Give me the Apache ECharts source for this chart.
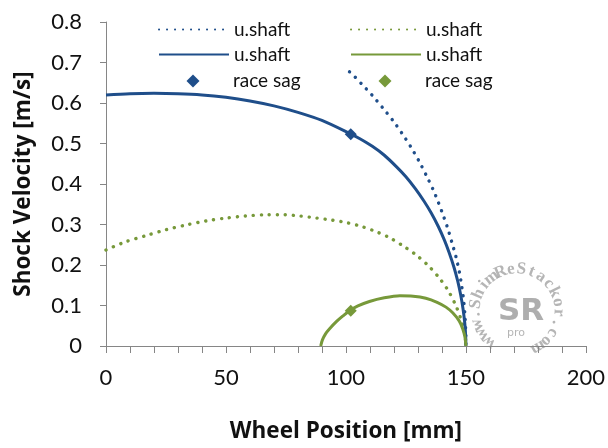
<!DOCTYPE html>
<html>
<head>
<meta charset="utf-8">
<script src="https://cdn.jsdelivr.net/npm/echarts@6/dist/echarts.min.js"></script>
<style>
  html, body { margin: 0; padding: 0; background: #fff; }
  #chart { width: 608px; height: 448px; }
</style>
</head>
<body>
<div id="chart"></div>
<script>
// Wheel position [mm] vs shock velocity [m/s]
const xTicks = [0, 50, 100, 150, 200];
const yTicks = [0, 0.1, 0.2, 0.3, 0.4, 0.5, 0.6, 0.7, 0.8];

// blue set
const blueDottedX = [101.5, 102.2, 106.7, 111.1, 115.6, 119.8, 123.6, 127.1, 130.6, 133.6, 136.5, 138.5, 140.4, 142.3, 144.2, 146, 147.3, 148.3, 149.1, 149.6, 149.9, 150];
const blueDottedY = [0.677, 0.674, 0.646, 0.618, 0.586, 0.555, 0.523, 0.491, 0.455, 0.420, 0.384, 0.355, 0.325, 0.293, 0.255, 0.217, 0.182, 0.146, 0.110, 0.075, 0.040, 0];

const blueSolidX = [0, 10, 20, 30, 40, 50, 60, 70, 80, 90, 101.5, 106, 111, 116, 121, 125, 129, 132.5, 135.5, 138.5, 141, 143, 145, 146.6, 147.8, 148.8, 149.5, 149.9, 150];
const blueSolidY = [0.620, 0.623, 0.624, 0.623, 0.620, 0.614, 0.605, 0.593, 0.577, 0.557, 0.525, 0.511, 0.493, 0.471, 0.443, 0.418, 0.388, 0.358, 0.329, 0.295, 0.262, 0.231, 0.195, 0.160, 0.127, 0.092, 0.058, 0.026, 0];

const blueSagX = [102];
const blueSagY = [0.523];

// green set
const greenDottedX = [0, 8, 16.9, 25, 33.5, 42, 50.2, 58, 66.8, 74.4, 80.7, 87.6, 94, 100, 105.5, 111.4, 117.7, 123.6, 129.2, 134.4, 138.9, 142.6, 145.8, 147.9, 149.2, 149.8, 150];
const greenDottedY = [0.237, 0.257, 0.273, 0.287, 0.299, 0.309, 0.316, 0.321, 0.324, 0.324, 0.321, 0.316, 0.311, 0.305, 0.297, 0.285, 0.269, 0.248, 0.225, 0.198, 0.168, 0.137, 0.100, 0.067, 0.040, 0.018, 0];

const greenSolidX = [89.5, 90.2, 91.5, 93.1, 96, 98.5, 101.5, 105, 109.8, 116, 122.5, 128, 133.3, 138, 141.7, 144.5, 147.2, 148.7, 149.6, 150];
const greenSolidY = [0, 0.015, 0.030, 0.042, 0.060, 0.073, 0.087, 0.099, 0.110, 0.119, 0.124, 0.123, 0.118, 0.108, 0.096, 0.082, 0.062, 0.042, 0.022, 0];

const greenSagX = [102];
const greenSagY = [0.087];

const BLUE = '#1F4E8A';
const GREEN = '#77993A';
const AXIS = '#868686';
const FONT = 'Lato';
const TITLE_FONT = 'Open Sans';

function pairs(xs, ys) { return xs.map((x, i) => [x, ys[i]]); }

const DOT = [0.1, 7.9];

function lineSeries(name, xs, ys, color, dotted) {
  return {
    name: name,
    type: 'line',
    data: pairs(xs, ys),
    smooth: 0.3,
    showSymbol: false,
    symbol: 'none',
    silent: true,
    lineStyle: dotted
      ? { color: color, width: 3.4, type: DOT, cap: 'round' }
      : { color: color, width: 3 },
    itemStyle: { color: color },
    z: 3
  };
}

function sagSeries(name, xs, ys, color) {
  return {
    name: name,
    type: 'scatter',
    data: pairs(xs, ys),
    symbol: 'diamond',
    symbolSize: 12,
    itemStyle: { color: color, opacity: 1 },
    z: 5
  };
}

const labelMap = {
  blueDotted: 'u.shaft', blueSolid: 'u.shaft', blueSag: 'race sag',
  greenDotted: 'u.shaft', greenSolid: 'u.shaft', greenSag: 'race sag'
};

// one legend entry per component so each row/column can be placed freely
function legendLine(name, left, centerY) {
  const h = 14;
  return {
    data: [{ name: name, itemStyle: { opacity: 0 } }],
    left: left,
    top: centerY - h / 2,
    padding: 0,
    itemWidth: 70,
    itemHeight: h,
    selectedMode: false,
    formatter: n => labelMap[n],
    textStyle: { fontFamily: FONT, fontSize: 19, color: '#111', lineHeight: h }
  };
}

// diamond key: the icon box is kept square, the text is pushed out to the column
function legendMarker(name, iconCenterX, textX, centerY) {
  const h = 13;
  return {
    data: [{ name: name, icon: 'diamond', itemStyle: { opacity: 1 } }],
    left: iconCenterX - h / 2,
    top: centerY - h / 2,
    padding: 0,
    itemWidth: h,
    itemHeight: h,
    selectedMode: false,
    formatter: n => labelMap[n],
    textStyle: {
      fontFamily: FONT, fontSize: 19, color: '#111', lineHeight: h,
      padding: [0, 0, 0, textX - (iconCenterX + h / 2 + 5)]
    }
  };
}

// circular watermark stamp
function stamp(cx, cy) {
  const txt = 'www.ShimReStackor.com';
  const r = 42;
  const start = -138 * Math.PI / 180;
  const end = 150 * Math.PI / 180;
  const step = (end - start) / (txt.length - 1);
  const items = [];
  for (let i = 0; i < txt.length; i++) {
    const a = start + i * step;
    items.push({
      type: 'text',
      x: cx + r * Math.sin(a),
      y: cy - r * Math.cos(a),
      rotation: -a,
      style: {
        text: txt[i],
        font: 'bold 17px "Liberation Serif"',
        fill: '#a2a2a2',
        align: 'center',
        verticalAlign: 'middle',
        opacity: 0.8
      }
    });
  }
  items.push({
    type: 'text', x: cx + 4, y: cy + 1,
    style: { text: 'SR', font: 'bold 31px "DejaVu Sans"', fill: '#a0a0a0', align: 'center', verticalAlign: 'middle', opacity: 0.85 }
  });
  items.push({
    type: 'text', x: cx - 1, y: cy + 22,
    style: { text: 'pro', font: '11px "DejaVu Sans"', fill: '#a8a8a8', align: 'center', verticalAlign: 'middle', opacity: 0.85 }
  });
  return { type: 'group', silent: true, z: 1, children: items };
}

const chart = echarts.init(document.getElementById('chart'), null, { renderer: 'canvas' });

chart.setOption({
  animation: false,
  backgroundColor: '#fff',
  grid: { left: 106, right: 21, top: 22, bottom: 90, containLabel: false },
  legend: [
    legendLine('blueDotted', 158, 27),
    legendLine('blueSolid', 158, 52),
    legendMarker('blueSag', 193, 233, 78),
    legendLine('greenDotted', 350, 27),
    legendLine('greenSolid', 350, 52),
    legendMarker('greenSag', 385, 425, 78)
  ],
  graphic: [stamp(517, 311)],
  xAxis: {
    type: 'value',
    min: xTicks[0],
    max: xTicks[xTicks.length - 1],
    interval: 10,
    name: 'Wheel Position [mm]',
    nameLocation: 'middle',
    nameGap: 74,
    nameTextStyle: { fontFamily: TITLE_FONT, fontSize: 22.5, fontWeight: 'bold', color: '#111' },
    axisLine: { show: true, lineStyle: { color: AXIS, width: 1 } },
    axisTick: { show: true, inside: false, length: 7, lineStyle: { color: AXIS } },
    axisLabel: {
      interval: 0,
      margin: 21,
      fontFamily: FONT, fontSize: 22, color: '#111',
      formatter: v => (xTicks.indexOf(v) >= 0 ? String(v) : '')
    },
    splitLine: { show: false }
  },
  yAxis: {
    type: 'value',
    min: yTicks[0],
    max: yTicks[yTicks.length - 1],
    interval: 0.1,
    name: 'Shock Velocity [m/s]',
    nameLocation: 'middle',
    nameGap: 71,
    nameTextStyle: { fontFamily: TITLE_FONT, fontSize: 22.5, fontWeight: 'bold', color: '#111' },
    axisLine: { show: true, lineStyle: { color: AXIS, width: 1 } },
    axisTick: { show: true, inside: false, length: 6, lineStyle: { color: AXIS } },
    axisLabel: {
      margin: 24,
      fontFamily: FONT, fontSize: 22, color: '#111',
      formatter: v => {
        const t = yTicks.find(k => Math.abs(k - v) < 1e-6);
        return t === undefined ? '' : (t === 0 ? '0' : t.toFixed(1));
      }
    },
    splitLine: { show: false }
  },
  series: [
    lineSeries('blueDotted', blueDottedX, blueDottedY, BLUE, true),
    lineSeries('greenDotted', greenDottedX, greenDottedY, GREEN, true),
    lineSeries('blueSolid', blueSolidX, blueSolidY, BLUE, false),
    lineSeries('greenSolid', greenSolidX, greenSolidY, GREEN, false),
    sagSeries('blueSag', blueSagX, blueSagY, BLUE),
    sagSeries('greenSag', greenSagX, greenSagY, GREEN)
  ]
});
</script>
</body>
</html>
